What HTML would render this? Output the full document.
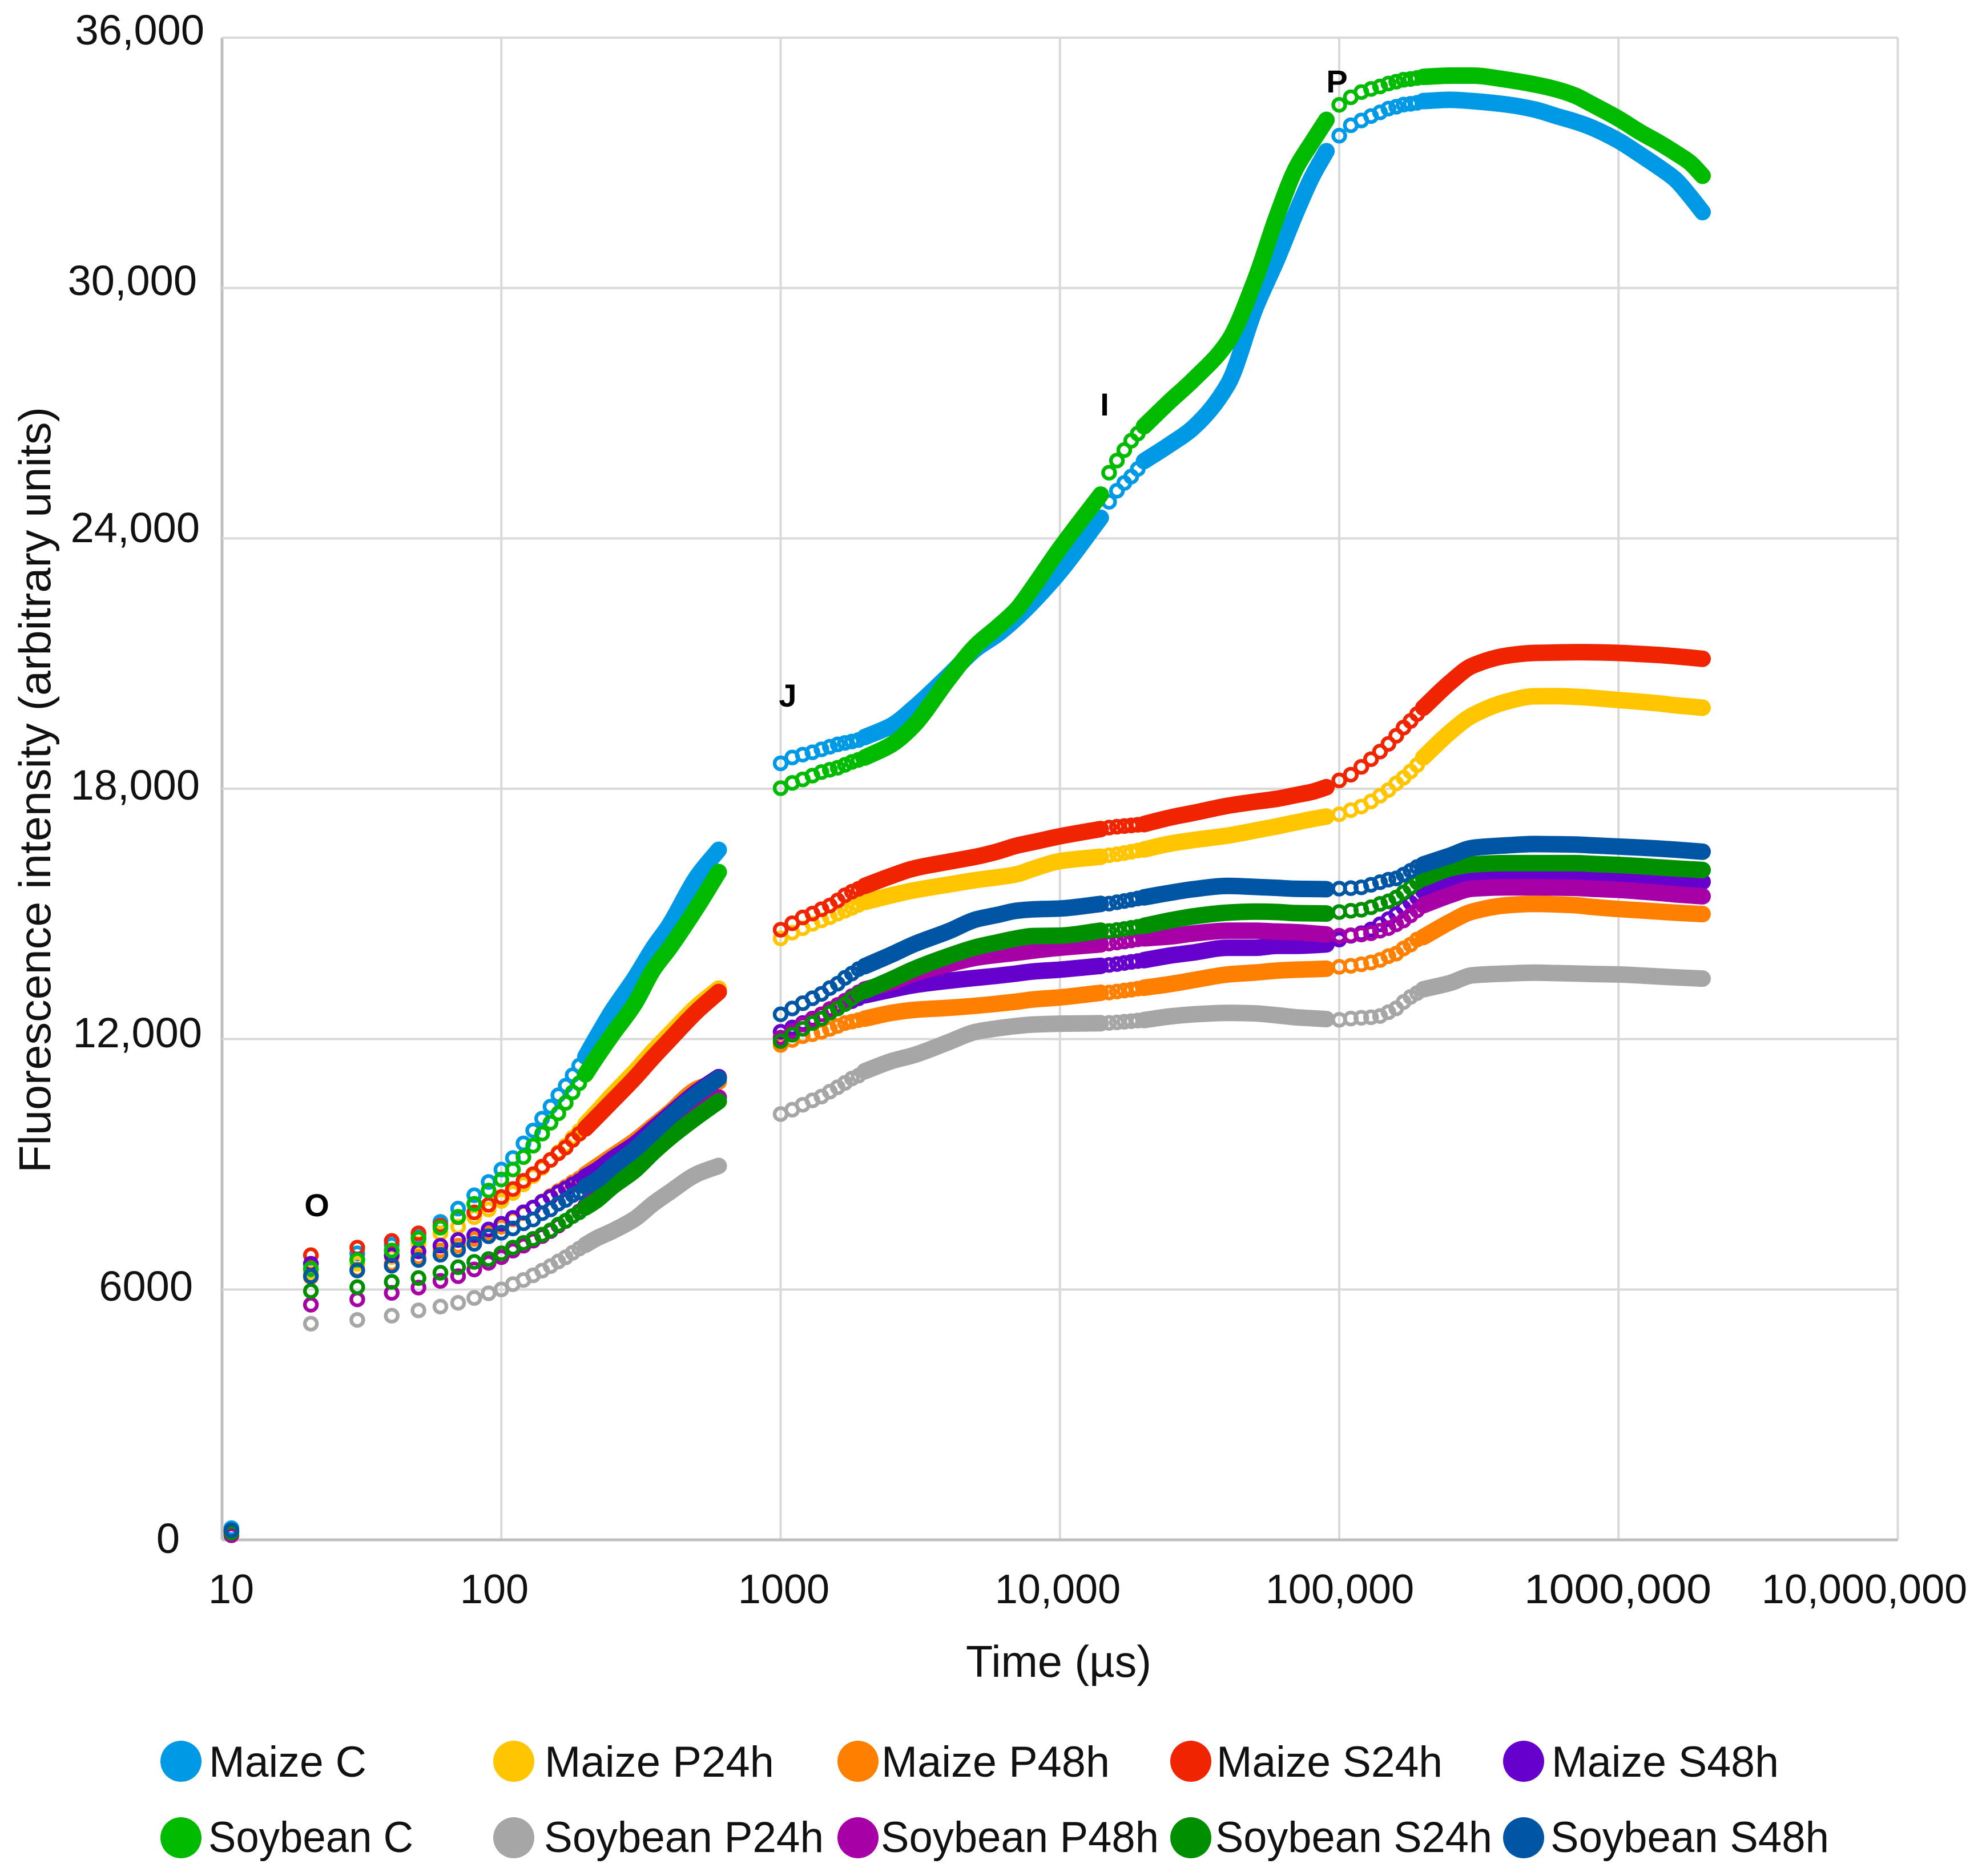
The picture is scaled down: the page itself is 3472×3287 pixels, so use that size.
<!DOCTYPE html>
<html lang="en">
<head>
<meta charset="utf-8">
<title>Fluorescence intensity over time</title>
<style>
html,body{margin:0;padding:0;background:#fff;}
svg{display:block;}
text{font-family:"Liberation Sans",sans-serif;fill:#111;}
.tick{font-size:74px;}
.xt{font-size:72px;text-anchor:middle;}
.lg{font-size:76px;}
.pt{font-size:56px;font-weight:bold;text-anchor:middle;fill:#000;}
</style>
</head>
<body>
<svg id="chart" xmlns="http://www.w3.org/2000/svg" width="3472" height="3287" viewBox="0 0 3472 3287">
<rect width="3472" height="3287" fill="#fff"/>
<g id="grid"></g>
<g id="marks"></g>

<g text-anchor="end">
<text class="tick" x="358" y="78">36,000</text>
<text class="tick" x="345" y="517">30,000</text>
<text class="tick" x="350" y="950">24,000</text>
<text class="tick" x="350" y="1401">18,000</text>
<text class="tick" x="354" y="1835">12,000</text>
<text class="tick" x="338" y="2279">6000</text>
<text class="tick" x="315" y="2721">0</text>
</g>
<g>
<text class="xt" x="405" y="2809">10</text>
<text class="xt" x="866" y="2809">100</text>
<text class="xt" x="1373" y="2809">1000</text>
<text class="xt" x="1853" y="2809">10,000</text>
<text class="xt" x="2347" y="2809">100,000</text>
<text class="xt" x="2834" y="2809" textLength="328" lengthAdjust="spacingAndGlyphs">1000,000</text>
<text class="xt" x="3266" y="2809">10,000,000</text>
</g>
<text x="1692" y="2938" font-size="78" textLength="325" lengthAdjust="spacingAndGlyphs">Time (µs)</text>
<text transform="translate(88,2055) rotate(-90)" x="0" y="0" font-size="78" textLength="1342" lengthAdjust="spacingAndGlyphs">Fluorescence intensity (arbitrary units)</text>

<text class="pt" x="555" y="2131">O</text>
<text class="pt" x="1380" y="1238">J</text>
<text class="pt" x="1935" y="728">I</text>
<text class="pt" x="2342" y="162">P</text>

<g>
<g><circle cx="317" cy="3086" r="36" fill="#0099E6"/><text class="lg" x="366" y="3113" textLength="276" lengthAdjust="spacingAndGlyphs">Maize C</text></g>
<g><circle cx="900" cy="3086" r="36" fill="#FFC600"/><text class="lg" x="954" y="3113" textLength="402" lengthAdjust="spacingAndGlyphs">Maize P24h</text></g>
<g><circle cx="1503" cy="3086" r="36" fill="#FF7F00"/><text class="lg" x="1544" y="3113" textLength="400" lengthAdjust="spacingAndGlyphs">Maize P48h</text></g>
<g><circle cx="2086" cy="3086" r="36" fill="#F02400"/><text class="lg" x="2131" y="3113" textLength="396" lengthAdjust="spacingAndGlyphs">Maize S24h</text></g>
<g><circle cx="2669" cy="3086" r="36" fill="#6600CC"/><text class="lg" x="2718" y="3113" textLength="398" lengthAdjust="spacingAndGlyphs">Maize S48h</text></g>
<g><circle cx="317" cy="3220" r="36" fill="#00BB00"/><text class="lg" x="365" y="3245" textLength="359" lengthAdjust="spacingAndGlyphs">Soybean C</text></g>
<g><circle cx="900" cy="3220" r="36" fill="#A6A6A6"/><text class="lg" x="953" y="3245" textLength="490" lengthAdjust="spacingAndGlyphs">Soybean P24h</text></g>
<g><circle cx="1503" cy="3220" r="36" fill="#A600A6"/><text class="lg" x="1543" y="3245" textLength="487" lengthAdjust="spacingAndGlyphs">Soybean P48h</text></g>
<g><circle cx="2086" cy="3220" r="36" fill="#008F00"/><text class="lg" x="2129" y="3245" textLength="485" lengthAdjust="spacingAndGlyphs">Soybean S24h</text></g>
<g><circle cx="2669" cy="3220" r="36" fill="#0055A5"/><text class="lg" x="2716" y="3245" textLength="488" lengthAdjust="spacingAndGlyphs">Soybean S48h</text></g>
</g>
</svg>

<script>
const xTicks = [10,100,1000,10000,100000,1000000,10000000];
const yTicks = [0,6000,12000,18000,24000,30000,36000];

const timesA = [10.8,20.8,30.5,40.5,50.5,60.5,70,80,90,100,110,120,130,140,150,160,170,180,190,200,220,250,300,350,400,500,600];
const timesB = [1000,1100,1200,1300,1400,1500,1600,1700,1800,1900,2000,2500,3000,4000,5000,6000,7000,8000,10000,14000];
const timesB2 = [15000,16000,17000,18000,19000,20000,25000,30000,40000,50000,60000,70000,80000,90000];
const timesC = [100000,110000,120000,130000,140000,150000,160000,170000,180000,190000,200000,250000,300000,400000,500000,600000,700000,800000,1000000,1200000,1400000,1600000,1800000,2000000];

const maizeC_A = [280,6480,6866,7070,7254,7619,7938,8257,8576,8873,9150,9501,9811,10094,10381,10655,10883,11134,11362,11580,12068,12690,13460,14190,14740,15880,16537];
const maizeC_B = [18608,18748,18818,18874,18944,19007,19063,19098,19133,19168,19238,19517,19937,20720,21350,21710,22093,22476,23200,24494];
const maizeC_B2 = [24877,25141,25329,25482,25663,25851,26269,26652,27700,29500,30700,31800,32670,33280];
const maizeC_C = [33650,33900,34015,34120,34210,34300,34345,34395,34415,34440,34480,34510,34480,34395,34280,34120,33990,33850,33530,33190,32890,32600,32210,31820];

const maizeP24_A = [220,6390,6615,6775,7094,7345,7505,7733,7915,8120,8310,8520,8720,8915,9110,9290,9450,9640,9800,9960,10260,10670,11220,11720,12120,12780,13210];
const maizeP24_B = [14413,14552,14657,14762,14846,14923,15007,15077,15147,15217,15287,15448,15566,15706,15811,15880,15951,16080,16266,16371];
const maizeP24_B2 = [16406,16430,16460,16490,16520,16545,16690,16770,16880,17000,17102,17194,17273,17334];
const maizeP24_C = [17389,17487,17573,17695,17835,17970,18128,18263,18415,18568,18751,19362,19759,20094,20216,20220,20204,20180,20125,20085,20045,20000,19970,19942];

const maizeP48_A = [200,6296,6480,6615,6775,6935,7049,7208,7368,7505,7680,7830,7960,8110,8240,8360,8460,8570,8660,8760,8950,9200,9560,9920,10240,10800,10980];
const maizeP48_B = [11860,11979,12070,12119,12175,12245,12315,12385,12420,12455,12490,12630,12700,12750,12800,12850,12900,12950,13000,13110];
const maizeP48_B2 = [13117,13140,13165,13185,13210,13231,13322,13414,13550,13596,13642,13664,13675,13687];
const maizeP48_C = [13732,13756,13793,13836,13897,13988,14049,14171,14263,14385,14446,14813,15057,15210,15240,15228,15210,15170,15118,15085,15055,15030,15012,14996];

const maizeS24_A = [200,6821,7003,7163,7345,7528,7733,7847,8029,8215,8407,8603,8763,8945,9104,9264,9401,9583,9729,9857,10140,10518,11065,11567,11980,12660,13130];
const maizeS24_B = [14622,14776,14916,15007,15112,15203,15322,15448,15532,15601,15671,15916,16091,16252,16371,16500,16636,16720,16860,17035];
const maizeS24_B2 = [17070,17090,17105,17120,17137,17154,17315,17420,17594,17690,17760,17850,17927,18037];
const maizeS24_C = [18200,18336,18525,18708,18891,19075,19270,19465,19624,19789,19942,20552,20949,21193,21255,21265,21273,21270,21255,21230,21205,21175,21145,21114];

const maizeS48_A = [190,6616,6720,6820,6912,7049,7186,7300,7436,7573,7714,7850,7964,8101,8215,8329,8420,8520,8600,8700,8860,9130,9480,9860,10190,10730,11090];
const maizeS48_B = [12175,12280,12385,12490,12594,12678,12769,12839,12909,12979,13049,13189,13294,13399,13469,13520,13573,13620,13665,13756];
const maizeS48_B2 = [13778,13800,13825,13850,13870,13892,14006,14075,14189,14189,14234,14234,14250,14271];
const maizeS48_C = [14385,14477,14538,14629,14752,14874,14996,15148,15270,15393,15545,15851,15973,15973,15973,15960,15942,15930,15912,15875,15840,15810,15790,15771];

const soyC_A = [230,6500,6707,6935,7217,7482,7742,8052,8371,8636,8876,9173,9446,9734,9994,10222,10472,10723,10942,11156,11580,12114,12843,13664,14180,15146,16004];
const soyC_B = [18014,18140,18224,18315,18399,18455,18503,18573,18643,18692,18748,19063,19520,20640,21432,21884,22300,22824,23763,25050];
const soyC_B2 = [25573,25865,26116,26339,26513,26687,27313,27800,28720,30200,31750,32870,33500,34030];
const soyC_C = [34390,34570,34695,34770,34830,34900,34945,34990,35010,35035,35060,35090,35090,34990,34880,34760,34610,34410,34060,33730,33480,33240,33010,32690];

const soyP24_A = [180,5180,5270,5371,5498,5590,5681,5795,5909,6000,6128,6228,6340,6450,6560,6670,6770,6880,6980,7070,7230,7400,7690,8056,8329,8762,8960];
const soyP24_B = [10203,10308,10427,10532,10622,10741,10847,10951,11056,11126,11231,11476,11616,11930,12175,12260,12315,12350,12370,12380];
const soyP24_B2 = [12388,12400,12415,12430,12445,12456,12547,12593,12629,12616,12570,12524,12500,12479];
const soyP24_C = [12462,12493,12511,12523,12553,12645,12737,12889,13011,13103,13194,13347,13530,13573,13591,13582,13573,13562,13549,13525,13500,13480,13465,13451];

const soyP48_A = [110,5635,5763,5918,6046,6205,6319,6479,6638,6775,6930,7050,7170,7280,7400,7530,7640,7760,7870,8000,8200,8510,8900,9340,9680,10190,10600];
const soyP48_B = [12035,12189,12350,12470,12594,12720,12820,12920,13030,13120,13190,13364,13573,13800,13950,14020,14070,14120,14190,14270];
const soyP48_B2 = [14290,14315,14340,14365,14390,14417,14462,14531,14599,14599,14576,14563,14535,14508];
const soyP48_C = [14477,14489,14507,14538,14599,14660,14752,14843,14965,15087,15209,15454,15606,15637,15637,15632,15625,15605,15576,15540,15505,15470,15445,15423];

const soyS24_A = [170,5964,6055,6182,6274,6401,6534,6661,6730,6866,7003,7117,7212,7312,7417,7554,7646,7759,7850,7964,8147,8466,8854,9287,9629,10130,10510];
const soyS24_B = [11951,12105,12245,12385,12490,12629,12734,12839,12979,13084,13154,13434,13678,13993,14203,14320,14413,14470,14480,14600];
const soyS24_B2 = [14590,14615,14640,14665,14690,14713,14850,14941,15032,15055,15046,15019,15015,15010];
const soyS24_C = [15045,15075,15100,15161,15240,15301,15393,15515,15637,15759,15851,16095,16186,16217,16217,16217,16217,16200,16174,16145,16115,16090,16070,16052];

const soyS48_A = [230,6320,6456,6570,6707,6834,6948,7094,7277,7360,7463,7586,7677,7828,7919,8056,8147,8261,8329,8466,8626,8945,9355,9766,10130,10678,11060];
const soyS48_B = [12594,12734,12860,12979,13084,13224,13329,13469,13573,13678,13748,14028,14273,14587,14867,14980,15077,15110,15130,15240];
const soyS48_B2 = [15247,15280,15310,15340,15370,15397,15511,15593,15671,15648,15625,15602,15598,15593];
const soyS48_C = [15606,15619,15637,15698,15759,15820,15851,15942,16034,16125,16186,16400,16583,16644,16675,16670,16663,16645,16614,16590,16565,16540,16515,16492];

const seriesNames = ['maize-c','maize-p24h','maize-p48h','maize-s24h','maize-s48h','soybean-c','soybean-p24h','soybean-p48h','soybean-s24h','soybean-s48h'];
const seriesColors = ['#0099E6','#FFC600','#FF7F00','#F02400','#6600CC','#00BB00','#A6A6A6','#A600A6','#008F00','#0055A5'];
const seriesA = [maizeC_A,maizeP24_A,maizeP48_A,maizeS24_A,maizeS48_A,soyC_A,soyP24_A,soyP48_A,soyS24_A,soyS48_A];
const seriesB = [maizeC_B,maizeP24_B,maizeP48_B,maizeS24_B,maizeS48_B,soyC_B,soyP24_B,soyP48_B,soyS24_B,soyS48_B];
const seriesB2 = [maizeC_B2,maizeP24_B2,maizeP48_B2,maizeS24_B2,maizeS48_B2,soyC_B2,soyP24_B2,soyP48_B2,soyS24_B2,soyS48_B2];
const seriesC = [maizeC_C,maizeP24_C,maizeP48_C,maizeS24_C,maizeS48_C,soyC_C,soyP24_C,soyP48_C,soyS24_C,soyS48_C];

const SVGNS = 'http://www.w3.org/2000/svg';
function xScale(t){ return 389 + 489.25 * (Math.log10(t) - 1); }
function yScale(v){ return 2698 - v * (2632 / 36000); }

/* monotone cubic path through screen points, so dense bands bend smoothly */
function smoothPath(px, py){
  const n = px.length;
  const d = [];
  for (let i = 0; i < n - 1; i++) d.push((py[i+1] - py[i]) / (px[i+1] - px[i]));
  const m = [d[0]];
  for (let i = 1; i < n - 1; i++) {
    m.push(d[i-1] * d[i] <= 0 ? 0 : 2 * d[i-1] * d[i] / (d[i-1] + d[i]));
  }
  m.push(d[n-2]);
  let s = 'M' + px[0].toFixed(1) + ' ' + py[0].toFixed(1);
  for (let i = 0; i < n - 1; i++) {
    const h = (px[i+1] - px[i]) / 3;
    s += 'C' + (px[i] + h).toFixed(1) + ' ' + (py[i] + m[i] * h).toFixed(1) + ' ' +
         (px[i+1] - h).toFixed(1) + ' ' + (py[i+1] - m[i+1] * h).toFixed(1) + ' ' +
         px[i+1].toFixed(1) + ' ' + py[i+1].toFixed(1);
  }
  return s;
}

const grid = document.getElementById('grid');
xTicks.forEach(function(t, i){
  const ln = document.createElementNS(SVGNS, 'line');
  
  
  ln.setAttribute('x1', xScale(t));
  ln.setAttribute('x2', xScale(t));
  ln.setAttribute('y1', yScale(36000));
  ln.setAttribute('y2', yScale(0));
  ln.setAttribute('stroke', i === 0 ? '#bfbfbf' : '#d9d9d9');
  ln.setAttribute('stroke-width', i === 0 ? 5 : 4);
  grid.appendChild(ln);
});
yTicks.forEach(function(v, i){
  const ln = document.createElementNS(SVGNS, 'line');
  
  
  ln.setAttribute('x1', xScale(10));
  ln.setAttribute('x2', xScale(10000000));
  ln.setAttribute('y1', yScale(v));
  ln.setAttribute('y2', yScale(v));
  ln.setAttribute('stroke', i === 0 ? '#bfbfbf' : '#d9d9d9');
  ln.setAttribute('stroke-width', i === 0 ? 5 : 4);
  grid.appendChild(ln);
});

const marks = document.getElementById('marks');
function drawSegment(group, times, values, color, firstDense){
  times.forEach(function(t, i){
    if (i > firstDense) return;
    const c = document.createElementNS(SVGNS, 'circle');
    
    
    c.setAttribute('cx', xScale(t).toFixed(1));
    c.setAttribute('cy', yScale(values[i]).toFixed(1));
    c.setAttribute('r', 10.5);
    c.setAttribute('fill', 'none');
    c.setAttribute('stroke', color);
    c.setAttribute('stroke-width', 6.5);
    group.appendChild(c);
  });
  const px = [];
  const py = [];
  for (let i = firstDense; i < times.length; i++) {
    px.push(xScale(times[i]));
    py.push(yScale(values[i]));
  }
  const band = document.createElementNS(SVGNS, 'path');
  
  
  band.setAttribute('d', smoothPath(px, py));
  band.setAttribute('fill', 'none');
  band.setAttribute('stroke', color);
  band.setAttribute('stroke-width', 29);
  band.setAttribute('stroke-linecap', 'round');
  band.setAttribute('stroke-linejoin', 'round');
  group.appendChild(band);
}
seriesNames.forEach(function(name, s){
  const g = document.createElementNS(SVGNS, 'g');
  
  
  drawSegment(g, timesA, seriesA[s], seriesColors[s], timesA.indexOf(200));
  drawSegment(g, timesB, seriesB[s], seriesColors[s], timesB.indexOf(2000));
  drawSegment(g, timesB2, seriesB2[s], seriesColors[s], timesB2.indexOf(20000));
  drawSegment(g, timesC, seriesC[s], seriesColors[s], timesC.indexOf(200000));
  marks.appendChild(g);
});
</script>
</body>
</html>
